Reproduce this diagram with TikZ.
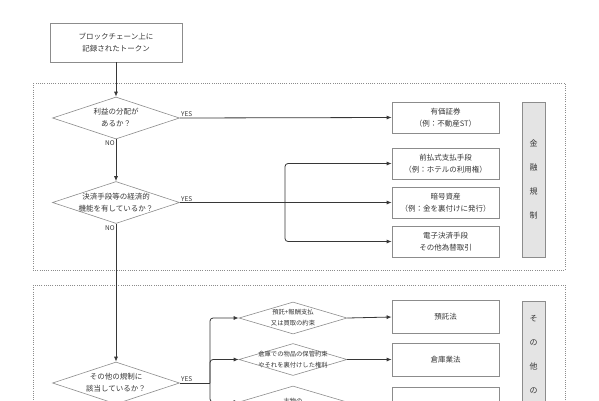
\documentclass[tikz,border=0pt]{standalone}
\usepackage{fontspec}
\setmainfont{Noto Sans CJK JP}
\usetikzlibrary{shapes.geometric,arrows.meta}
\definecolor{inkgray}{RGB}{55,55,55}
\definecolor{boxgray}{RGB}{140,140,140}
\definecolor{bandfill}{RGB}{228,228,228}

\begin{document}
\begin{tikzpicture}[x=1pt,y=-1pt,
  txt/.style={text=inkgray,font=\fontsize{7.5}{12}\selectfont,align=center},
  box/.style={txt,draw=boxgray,line width=0.7pt,minimum width=107pt,minimum height=31pt,inner sep=0pt},
  decision/.style={draw=boxgray,line width=0.6pt,diamond,minimum width=127pt,minimum height=42pt,inner sep=0pt},
  smalldec/.style={decision,minimum width=108pt,minimum height=32pt},
  qtext/.style={txt,inner sep=0pt},
  sqtext/.style={txt,inner sep=0pt,font=\fontsize{6.3}{11}\selectfont},
  band/.style={draw=boxgray,fill=bandfill,line width=0.8pt,minimum width=23pt,inner sep=0pt},
  bandtext/.style={txt,inner sep=0pt,font=\fontsize{8}{24}\selectfont},
  region/.style={draw=boxgray,line width=0.6pt,dash pattern=on 1pt off 1.2pt},
  flow/.style={draw=inkgray,line width=0.8pt},
  arr/.style={flow,-{Latex[length=5pt,width=4pt]}},
  tag/.style={txt,inner sep=1pt,font=\fontsize{6.5}{8}\selectfont}]
\useasboundingbox (0,0) rectangle (599,400);
\clip (0,0) rectangle (599,400);
% regions
\draw[region] (33,83) rectangle (565,270);
\draw[region] (33,285) rectangle (565,520);
% start and questions
\node[box,minimum width=132pt,minimum height=39pt] (token) at (116,42.5) {ブロックチェーン上に\\記録されたトークン};
\node[decision,label={[qtext]center:{利益の分配が\\あるか？}}] (q1) at (116,118) {};
\node[decision,label={[qtext]center:{決済手段等の経済的\\機能を有しているか？}}] (q2) at (116,202.5) {};
\node[decision,label={[qtext]center:{その他の規制に\\該当しているか？}}] (q3) at (116,383) {};
% financial regulation
\node[box] (sec) at (445.5,117.5) {有価証券\\（例：不動産ST）};
\node[box] (prepaid) at (445.5,163.5) {前払式支払手段\\（例：ホテルの利用権）};
\node[box] (crypto) at (445.5,202.5) {暗号資産\\（例：金を裏付けに発行）};
\node[box] (epay) at (445.5,241.5) {電子決済手段\\その他為替取引};
\node[band,minimum height=155pt,label={[bandtext]center:{金\\融\\規\\制}}] (finreg) at (533.5,179.5) {};
% other regulation
\node[smalldec,label={[sqtext]center:{預託+報酬支払\\又は買取の約束}}] (s1) at (293,318) {};
\node[smalldec,label={[sqtext]center:{倉庫での物品の保管約束\\やそれを裏付けした権利}}] (s2) at (293,359.5) {};
\node[smalldec,label={[sqtext,yshift=1pt]center:{古物の}}] (s3) at (293,402) {};
\node[box,minimum height=33pt] (deposit) at (445.5,317) {預託法};
\node[box,minimum height=33pt] (warehouse) at (445.5,359.5) {倉庫業法};
\node[box,minimum height=33pt] (antique) at (445.5,404) {};
\node[band,minimum height=160pt,label={[bandtext,anchor=north,yshift=-15pt]north:{そ\\の\\他\\の}}] (otherreg) at (533.5,381) {};
% connectors
\draw[arr] (token) -- (q1);
\draw[arr] (q1.east) -- (sec.west) node[tag,pos=0,above right]{YES};
\draw[arr] (q1.south) -- (q2.north) node[tag,pos=0,below left]{NO};
\coordinate (j2) at (285,202.5);
\draw[flow] (q2.east) -- (j2) node[tag,pos=0,above right]{YES};
\draw[arr] (j2) -- (crypto.west);
\draw[arr,rounded corners=3pt] (j2) |- (prepaid.west);
\draw[arr,rounded corners=3pt] (j2) |- (epay.west);
\draw[arr] (q2.south) -- (q3.north) node[tag,pos=0,below left]{NO};
\coordinate (j3) at (210,383);
\draw[flow] (q3.east) -- (j3) node[tag,pos=0,above right]{YES};
\draw[arr,rounded corners=3pt] (j3) |- (s1.west);
\draw[arr,rounded corners=3pt] (j3) |- (s2.west);
\draw[arr,rounded corners=3pt] (j3) |- (s3.west);
\draw[arr] (s1.east) -- (deposit.west);
\draw[arr] (s2.east) -- (warehouse.west);
\draw[arr] (s3.east) -- (antique.west);
\end{tikzpicture}
\end{document}
